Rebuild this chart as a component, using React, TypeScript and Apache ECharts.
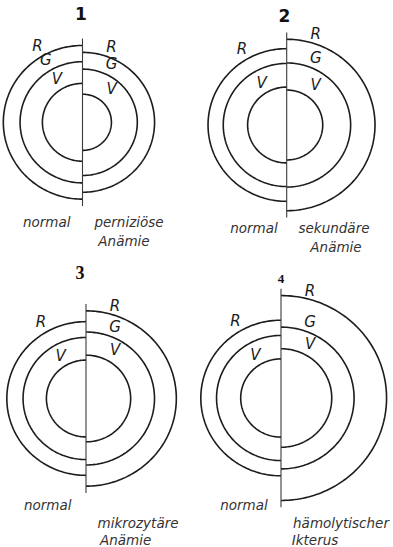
import React, { useEffect, useRef } from "react";
import * as echarts from "echarts";

// ---- data ----
const panelNumbers = ["1", "2", "3", "4"];
const arcNames = ["R", "G", "V"];
const normalCaption = "normal";
const conditionLine1 = ["perniziöse", "sekundäre", "mikrozytäre", "hämolytischer"];
const conditionLine2 = ["Anämie", "Anämie", "Anämie", "Ikterus"];
// half-circle radii (drawing units) – normal (left half)
const normalR = [78, 77.5, 78, 79];
const normalG = [61.5, 62.5, 62, 63.5];
const normalV = [39.5, 38.5, 39, 39.7];
// which of the normal arcs carry a letter
const normalLabelled = ["RGV", "RV", "RV", "RV"];
// half-circle radii – pathological condition (right half)
const diseaseR = [71, 87, 89, 104];
const diseaseG = [54, 63, 67.5, 72];
const diseaseV = [28.5, 35.5, 44, 50];

// ---- layout ----
const W = 393;
const H = 547;
const panelCenters: [number, number][] = [
  [82.5, 122.3],
  [286.7, 125],
  [86, 398.5],
  [281, 398],
];
const numberPos: [number, number, string, number, string][] = [
  [81, 14, "'DejaVu Sans', sans-serif", 17, "bold"],
  [284.5, 16, "'DejaVu Sans', sans-serif", 17, "bold"],
  [80, 273, "serif", 18, "bold"],
  [281, 278.5, "serif", 13, "bold"],
];
const captionPos = [
  { n: [46.7, 221.7], a: [129, 221.7], b: [124, 240.7] },
  { n: [254, 227.7], a: [334, 227.7], b: [336, 246.7] },
  { n: [47.7, 505], a: [138, 523], b: [125.7, 539.5] },
  { n: [244, 505], a: [341, 523], b: [315, 539.5] },
];
const SX = 1.015;
const SY = 0.985;
const INK = "#1c1c1c";
const FONT = "'DejaVu Sans', 'Liberation Sans', sans-serif";

function buildOption() {
  const grid: any[] = [];
  const xAxis: any[] = [];
  const yAxis: any[] = [];
  const series: any[] = [];
  const graphic: any[] = [];

  panelCenters.forEach(([cx, cy], i) => {
    grid.push({ left: 0, top: 0, width: W, height: H });
    xAxis.push({
      type: "value",
      gridIndex: i,
      min: -cx / SX,
      max: (W - cx) / SX,
      show: false,
    });
    yAxis.push({
      type: "value",
      gridIndex: i,
      min: -(H - cy) / SY,
      max: cy / SY,
      show: false,
    });

    const leftR = [normalR[i], normalG[i], normalV[i]];
    const rightR = [diseaseR[i], diseaseG[i], diseaseV[i]];
    const arcs: { side: number; r: number; label: string }[] = [];
    leftR.forEach((r, k) =>
      arcs.push({
        side: -1,
        r,
        label: normalLabelled[i].includes(arcNames[k]) ? arcNames[k] : "",
      })
    );
    rightR.forEach((r, k) => arcs.push({ side: 1, r, label: arcNames[k] }));

    series.push({
      type: "custom",
      xAxisIndex: i,
      yAxisIndex: i,
      silent: true,
      clip: false,
      data: arcs.map((a) => [a.side, a.r]),
      renderItem: (params: any, api: any) => {
        const side = api.value(0);
        const r = api.value(1);
        const label = arcs[params.dataIndex].label;
        const c = api.coord([0, 0]);
        const px = api.coord([r, 0]);
        const py = api.coord([0, r]);
        const rh = px[0] - c[0];
        const rv = c[1] - py[1];
        const pts: number[][] = [];
        const N = 120;
        const start = side < 0 ? Math.PI / 2 : -Math.PI / 2;
        for (let k = 0; k <= N; k++) {
          const t = start + (Math.PI * k) / N;
          pts.push([c[0] + rh * Math.cos(t), c[1] + rv * Math.sin(t)]);
        }
        const children: any[] = [
          {
            type: "polyline",
            shape: { points: pts },
            style: { stroke: INK, lineWidth: 1.6, fill: null },
          },
        ];
        if (label) {
          let lx: number, ly: number;
          if (side < 0) {
            const ang = (120 * Math.PI) / 180;
            lx = c[0] + (rh + 11) * Math.cos(ang);
            ly = c[1] - (rv + 11) * Math.sin(ang);
          } else {
            lx = c[0] + 29;
            ly = c[1] - rv - 5;
          }
          children.push({
            type: "text",
            x: lx,
            y: ly,
            style: {
              text: label,
              fill: INK,
              fontSize: 15,
              fontStyle: "italic",
              fontFamily: FONT,
              align: "center",
              verticalAlign: "middle",
            },
          });
        }
        return { type: "group", children };
      },
    });

    const maxR = Math.max(...leftR, ...rightR) + 7;
    series.push({
      type: "line",
      xAxisIndex: i,
      yAxisIndex: i,
      silent: true,
      symbol: "none",
      clip: false,
      data: [
        [0, -maxR],
        [0, maxR],
      ],
      lineStyle: { color: "#3a3a3a", width: 1.1 },
    });

    const [nx, ny, nf, ns, nw] = numberPos[i];
    graphic.push({
      type: "text",
      x: nx,
      y: ny,
      style: {
        text: panelNumbers[i],
        fill: "#111",
        fontSize: ns,
        fontFamily: nf,
        fontWeight: nw,
        align: "center",
        verticalAlign: "middle",
      },
    });
    const cp = captionPos[i];
    const cap = (txt: string, p: number[]) => ({
      type: "text",
      x: p[0],
      y: p[1],
      style: {
        text: txt,
        fill: "#333",
        fontSize: 13.5,
        fontStyle: "italic",
        fontFamily: FONT,
        align: "center",
        verticalAlign: "middle",
      },
    });
    graphic.push(cap(normalCaption, cp.n));
    graphic.push(cap(conditionLine1[i], cp.a));
    graphic.push(cap(conditionLine2[i], cp.b));
  });

  return {
    animation: false,
    backgroundColor: "#ffffff",
    grid,
    xAxis,
    yAxis,
    series,
    graphic,
  };
}

export default function App() {
  const ref = useRef<HTMLDivElement>(null);
  useEffect(() => {
    if (!ref.current) return;
    const chart = echarts.init(ref.current, null, { renderer: "svg" });
    chart.setOption(buildOption() as any);
    return () => chart.dispose();
  }, []);
  return (
    <div
      ref={ref}
      style={{ position: "absolute", left: 0, top: 0, width: W, height: H }}
    />
  );
}
